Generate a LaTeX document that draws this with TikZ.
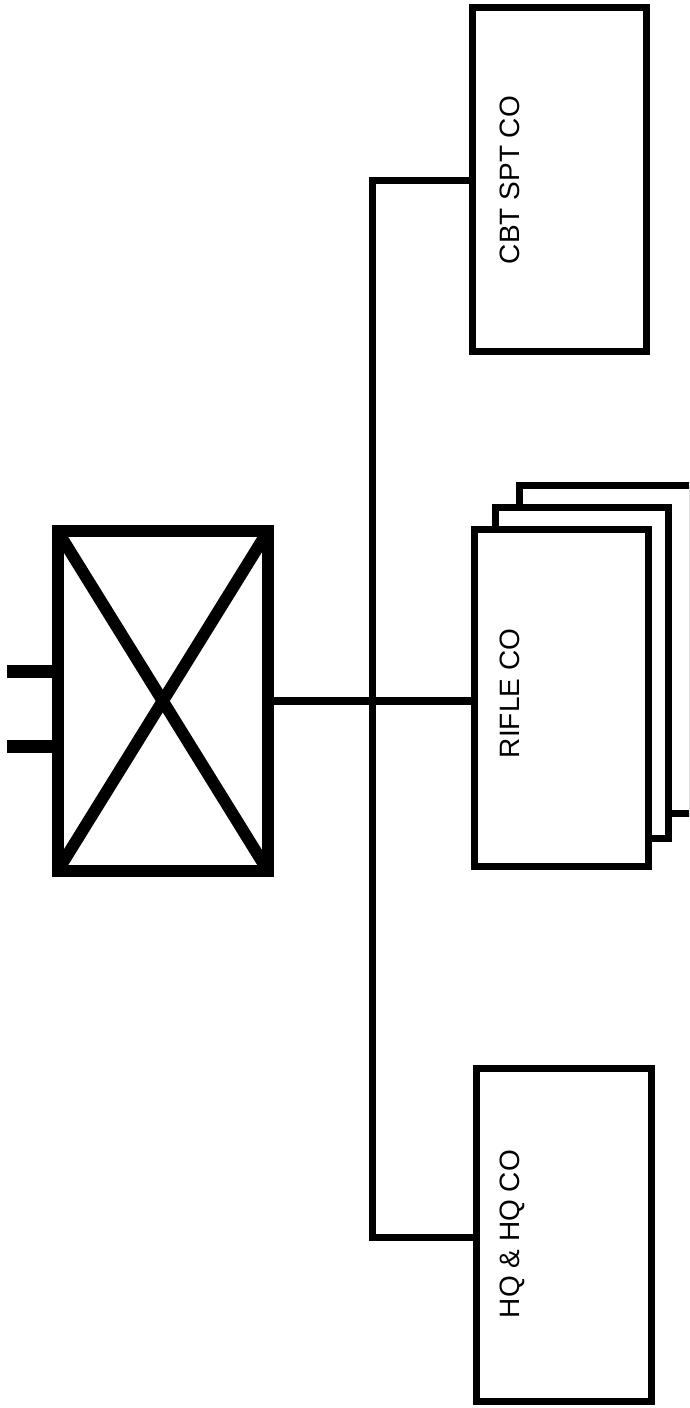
\documentclass[tikz,border=0pt]{standalone}
\usepackage{fontspec}
\setmainfont{Liberation Sans}
\begin{document}
\begin{tikzpicture}[x=1pt,y=-1pt,
  unitbox/.style={draw=black,fill=white,line width=7pt,rectangle,inner sep=0pt,outer sep=0pt,line join=miter},
  bnbox/.style={draw=black,fill=white,line width=12pt,rectangle,inner sep=0pt,outer sep=0pt,line join=miter},
  lbl/.style={font=\fontsize{28}{30}\selectfont,inner sep=0pt,rotate=90,anchor=center},
  wire/.style={draw=black,line width=7pt,line join=miter},
  tick/.style={draw=black,line width=13pt}]
\useasboundingbox (0,0) rectangle (689,1408);
\clip (0,0) rectangle (689,1408);
\fill[white] (0,0) rectangle (689,1408);
% battalion symbol
\node[bnbox,minimum width=210.5pt,minimum height=340pt] (bn) at (162.75,701) {};
\draw[line width=12pt] (bn.north west) -- (bn.south east);
\draw[line width=12pt] (bn.south west) -- (bn.north east);
\coordinate (t1) at (7,671.5);
\coordinate (t2) at (7,746.5);
\draw[tick] (t1) -- (t1 -| bn.west);
\draw[tick] (t2) -- (t2 -| bn.west);
% companies
\node[unitbox,minimum width=173.5pt,minimum height=343.5pt] (cbt) at (559.25,179.25) {};
\node[unitbox,minimum width=172.5pt,minimum height=328pt] (rf3) at (605.75,649) {};
\node[unitbox,minimum width=173.5pt,minimum height=331.5pt] (rf2) at (581.75,672.75) {};
\node[unitbox,minimum width=174.5pt,minimum height=337.5pt] (rf) at (561.25,697.75) {};
\node[unitbox,minimum width=175pt,minimum height=333pt] (hq) at (564,1235) {};
\node[lbl] (cbtl) at (510,180) {CBT SPT CO};
\node[lbl] (rfl) at (510,693.5) {RIFLE CO};
\node[lbl] (hql) at (512,1234) {HQ \& HQ CO};
% connectors
\coordinate (bustop) at (372,180.5);
\coordinate (busbot) at (372,1237);
\draw[wire] (bustop -| cbt.west) -- (bustop) -- (busbot) -- (busbot -| hq.west);
\draw[draw=black,line width=8pt] (bn.east) -- (bn.east -| rf.west);
\end{tikzpicture}
\end{document}
